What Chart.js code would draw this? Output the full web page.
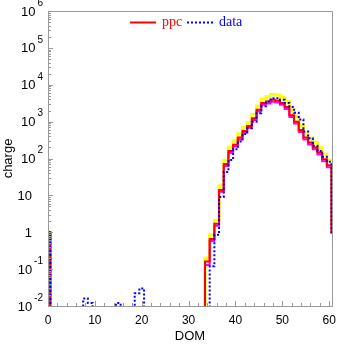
<!DOCTYPE html>
<html>
<head>
<meta charset="utf-8">
<script src="https://cdn.jsdelivr.net/npm/chart.js@4.4.1/dist/chart.umd.min.js"></script>
<style>
html,body{margin:0;padding:0;background:#fff;}
#wrap{width:337px;height:344px;position:relative;}
</style>
</head>
<body>
<div id="wrap"><canvas id="c" width="337" height="344"></canvas></div>
<script>
// DOM numbers (bin centres)
const dom = [0,1,2,3,4,5,6,7,8,9,10,11,12,13,14,15,16,17,18,19,20,21,22,23,24,25,26,27,28,29,30,
  31,32,33,34,35,36,37,38,39,40,41,42,43,44,45,46,47,48,49,50,51,52,53,54,55,56,57,58,59,60,61];
// ppc simulation (red)
const ppc = [1,0,0,0,0,0,0,0,0,0,0,0,0,0,0,0,0,0,0,0,0,0,0,0,0,0,0,0,0,0,0,
  0,0,0,0.16,0.66,1.7,14,71,160,235,370,560,760,1230,2100,3200,3500,3900,3700,3200,2500,1500,1000,590,370,270,200,145,95,66,1];
// ppc upper envelope (yellow)
const ppcHigh = [1,0,0,0,0,0,0,0,0,0,0,0,0,0,0,0,0,0,0,0,0,0,0,0,0,0,0,0,0,0,0,
  0,0,0,0.2,0.85,2.1,18,90,200,300,470,700,950,1550,2650,4100,4700,5400,5300,4500,3500,2100,1400,800,500,360,270,195,130,90,1];
// ppc lower envelope (magenta)
const ppcLow = [1,0,0,0,0,0,0,0,0,0,0,0,0,0,0,0,0,0,0,0,0,0,0,0,0,0,0,0,0,0,0,
  0,0,0,0.13,0.58,1.5,12.5,63,143,210,330,500,680,1100,1870,2850,3100,3450,3300,2850,2200,1330,890,520,330,240,178,128,84,58,1];
// data (blue)
const data = [1,0,0,0,0,0,0,0,0.016,0.012,0,0,0,0,0,0.012,0,0,0,0.022,0.03,0,0,0,0,0,0,0,0,0,0,
  0,0,0,0,0.12,0.85,9,43,91,178,290,460,660,1000,1700,2600,3500,4300,4300,3900,3200,2500,1750,1150,540,355,220,160,112,81,1];

const xTickValues = [0,10,20,30,40,50,60];
const xTickLabels = ['0','10','20','30','40','50','60'];
const yTickValues = [0.01,0.1,1,10,100,1000,10000,100000,1000000];
const yTickBase   = ['10','10','1','10','10','10','10','10','10'];
const yTickExp    = ['-2','-1','','','2','3','4','5','6'];
const legendNames = ['ppc','data'];

const FLOOR = 1e-4; // empty bins plotted below the axis
function pts(arr){ return dom.map((d,i)=>({x:d, y: arr[i] > 0 ? arr[i] : FLOOR})); }

const framePlugin = {
  id:'frame',
  afterDatasetsDraw(chart){
    const ctx = chart.ctx, a = chart.chartArea;
    const xs = chart.scales.x, ys = chart.scales.y;
    ctx.save();
    ctx.strokeStyle = '#999';
    ctx.lineWidth = 1;
    ctx.beginPath();
    ctx.rect(Math.round(a.left)+0.5, Math.round(a.top)+0.5, Math.round(a.right-a.left), Math.round(a.bottom-a.top));
    ctx.stroke();
    // x ticks (inward)
    ctx.beginPath();
    for (let v = 0; v <= 60; v += 2) {
      const px = Math.round(xs.getPixelForValue(v)) + 0.5;
      const len = (v % 10 === 0) ? 5 : 3;
      ctx.moveTo(px, a.bottom); ctx.lineTo(px, a.bottom - len);
    }
    // y ticks (inward)
    for (let k = 0; k < yTickValues.length; k++) {
      const base = yTickValues[k];
      const py = Math.round(ys.getPixelForValue(base)) + 0.5;
      ctx.moveTo(a.left, py); ctx.lineTo(a.left + 5, py);
      if (k < yTickValues.length - 1) {
        for (let m = 2; m <= 9; m++) {
          const my = Math.round(ys.getPixelForValue(base*m)) + 0.5;
          ctx.moveTo(a.left, my); ctx.lineTo(a.left + 3, my);
        }
      }
    }
    ctx.stroke();
    // x labels
    ctx.fillStyle = '#000';
    ctx.font = '12px "Liberation Sans", Arial, sans-serif';
    ctx.textAlign = 'center';
    ctx.textBaseline = 'middle';
    xTickValues.forEach((v,i)=>{
      ctx.fillText(xTickLabels[i], xs.getPixelForValue(v), 321);
    });
    // y labels with superscript exponent
    yTickValues.forEach((v,i)=>{
      const py = ys.getPixelForValue(v);
      ctx.font = '13px "Liberation Sans", Arial, sans-serif';
      ctx.textBaseline = 'middle';
      if (yTickExp[i]) {
        ctx.font = '10px "Liberation Sans", Arial, sans-serif';
        const ew = ctx.measureText(yTickExp[i]).width;
        const ex = 43 - ew;
        ctx.textAlign = 'left';
        ctx.fillText(yTickExp[i], ex, py - 8);
        ctx.font = '13px "Liberation Sans", Arial, sans-serif';
        ctx.textAlign = 'right';
        ctx.fillText(yTickBase[i], ex - 2, py + 1);
      } else {
        ctx.textAlign = 'right';
        ctx.fillText(yTickBase[i], 32, py + 1);
      }
    });
    // axis titles
    ctx.font = '13px "Liberation Sans", Arial, sans-serif';
    ctx.textAlign = 'center';
    ctx.fillText('DOM', (a.left + a.right)/2, 336);
    ctx.save();
    ctx.translate(8, (a.top + a.bottom)/2);
    ctx.rotate(-Math.PI/2);
    ctx.fillText('charge', 0, 0);
    ctx.restore();
    // legend
    ctx.font = '14px "Liberation Serif", "Times New Roman", serif';
    ctx.textAlign = 'left';
    ctx.lineWidth = 2;
    ctx.strokeStyle = '#ff0000';
    ctx.beginPath(); ctx.moveTo(130, 22.5); ctx.lineTo(156, 22.5); ctx.stroke();
    ctx.fillStyle = '#ff0000';
    ctx.fillText(legendNames[0], 162, 22);
    ctx.strokeStyle = '#0000ff';
    ctx.setLineDash([2,2]);
    ctx.beginPath(); ctx.moveTo(187, 22.5); ctx.lineTo(215, 22.5); ctx.stroke();
    ctx.setLineDash([]);
    ctx.fillStyle = '#0000ff';
    ctx.fillText(legendNames[1], 219, 22);
    ctx.restore();
  }
};

new Chart(document.getElementById('c'), {
  type: 'line',
  data: {
    datasets: [
      { label:'data', data: pts(data), borderColor:'#0000ff', borderWidth:2, borderDash:[2,2], stepped:'middle', pointRadius:0, fill:false, order:0, clip:0 },
      { label:'ppc', data: pts(ppc), borderColor:'#ff0000', borderWidth:2, stepped:'middle', pointRadius:0, fill:false, order:1, clip:0 },
      { label:'low', data: pts(ppcLow), borderColor:'#ff00ff', borderWidth:2, stepped:'middle', pointRadius:0, fill:false, order:2, clip:0 },
      { label:'high', data: pts(ppcHigh), borderColor:'#ffff00', borderWidth:3, stepped:'middle', pointRadius:0, fill:false, order:3, clip:0 }
    ]
  },
  options: {
    responsive:false,
    animation:false,
    layout:{ padding:{ left:48, right:5, top:11, bottom:38 } },
    plugins:{ legend:{display:false}, tooltip:{enabled:false} },
    scales:{
      x:{ type:'linear', min:0, max:60.6, display:false },
      y:{ type:'logarithmic', min:0.01, max:1e6, display:false }
    }
  },
  plugins:[framePlugin]
});
</script>
</body>
</html>
